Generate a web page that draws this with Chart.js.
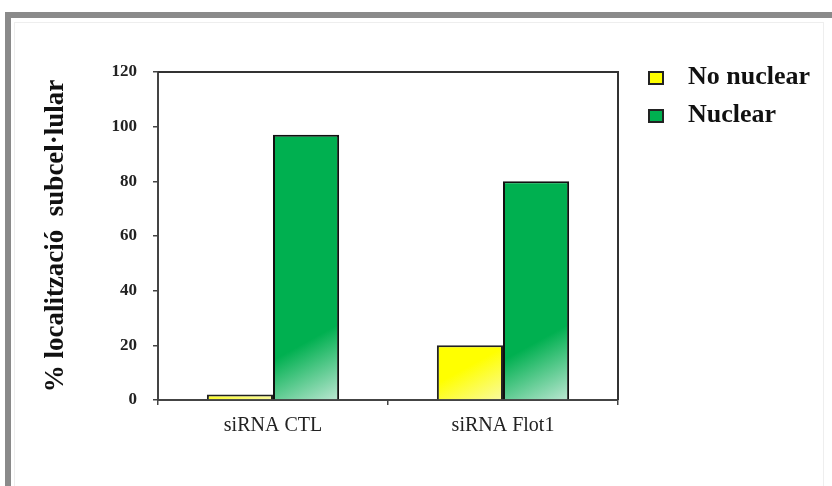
<!DOCTYPE html>
<html>
<head>
<meta charset="utf-8">
<script src="https://cdn.jsdelivr.net/npm/chart.js@4"></script>
<style>
    html, body { margin: 0; padding: 0; background: #fff; }
    body { width: 832px; height: 486px; position: relative; overflow: hidden; }
    /* grey frame round the figure */
    #frame { position: absolute; left: 5px; top: 12px; width: 840px; height: 480px;
             border-left: 6px solid #8a8a8a; border-top: 6px solid #8a8a8a; }
    #inner { position: absolute; left: 14px; top: 22px; width: 808px; height: 470px;
             border: 1px solid #eeeeee; }
    #chart-box { position: absolute; left: 0; top: 0; width: 832px; height: 486px; }
    #legend { position: absolute; left: 648px; top: 62px; font-family: "Liberation Serif", "Times New Roman", serif;
              font-weight: bold; font-size: 26px; color: #111; }
    .item { position: relative; height: 38px; }
    .sw { position: absolute; left: 0; top: 9px; width: 12px; height: 10px; border: 2px solid #222; }
    .lbl { position: absolute; left: 40px; top: 0; white-space: nowrap; line-height: 28px; }
</style>
</head>
<body>
<div id="frame"></div>
<div id="inner"></div>
<div id="chart-box"><canvas id="chart"></canvas></div>
<div id="legend"></div>

<script>
// Daten aus der Abbildung
const categories = ["siRNA CTL", "siRNA Flot1"];
const seriesNames = ["No nuclear", "Nuclear"];
const noNuclear = [2, 20];
const nuclear = [97, 80];
const yTicks = [0, 20, 40, 60, 80, 100, 120];

const colors = ["#ffff00", "#00b050"];
const lightColors = ["#f8f9c0", "#d6eee4"];
const catPct = 0.575;

// Verlauf pro Balken (unten rechts heller)
function barFill(side) {
    return function (ctx) {
        const chart = ctx.chart;
        if (!chart.chartArea || !chart.scales.x) return colors[side];
        const x = chart.scales.x, y = chart.scales.y;
        const center = x.getPixelForValue(ctx.dataIndex);
        const bw = (x.width / categories.length) * catPct / 2;
        const left = side === 0 ? center - bw : center;
        const base = y.getPixelForValue(0);
        const g = chart.ctx.createLinearGradient(left, base - 110, left + bw, base + 10);
        g.addColorStop(0, colors[side]);
        g.addColorStop(side === 0 ? 0.6 : 0.45, colors[side]);
        g.addColorStop(1, lightColors[side]);
        return g;
    };
}

// Rahmen oben und rechts um den Plotbereich
const boxPlugin = {
    id: "box",
    afterDraw(chart) {
        const a = chart.chartArea, c = chart.ctx;
        c.save();
        c.strokeStyle = "#333";
        c.lineWidth = 2;
        c.beginPath();
        c.moveTo(a.left, a.top);
        c.lineTo(a.right, a.top);
        c.lineTo(a.right, a.bottom);
        c.stroke();
        c.restore();
    }
};

new Chart(document.getElementById("chart"), {
    type: "bar",
    data: {
        labels: categories,
        datasets: [
            { label: seriesNames[0], data: noNuclear, backgroundColor: barFill(0),
              borderColor: "#222", borderWidth: 2, categoryPercentage: catPct, barPercentage: 1 },
            { label: seriesNames[1], data: nuclear, backgroundColor: barFill(1),
              borderColor: "#111", borderWidth: 2, categoryPercentage: catPct, barPercentage: 1 }
        ]
    },
    options: {
        responsive: true,
        maintainAspectRatio: false,
        animation: false,
        layout: { padding: { left: 30, top: 72, right: 214, bottom: 26 } },
        plugins: { legend: { display: false }, tooltip: { enabled: false } },
        scales: {
            x: {
                afterFit(s) { s.height = 60; },
                grid: { offset: true, drawOnChartArea: false, tickLength: 5, color: "#444", lineWidth: 1.5 },
                border: { color: "#444", width: 2 },
                ticks: { color: "#222", padding: 9,
                         font: { family: "'Liberation Serif', 'Times New Roman', serif", size: 20 } }
            },
            y: {
                min: 0,
                max: 120,
                afterFit(s) { s.width = 128; },
                afterBuildTicks(s) { s.ticks = yTicks.map(v => ({ value: v })); },
                grid: { drawOnChartArea: false, tickLength: 5, color: "#444", lineWidth: 1.5 },
                border: { color: "#444", width: 2 },
                ticks: { color: "#222", padding: 16,
                         font: { family: "'Liberation Serif', 'Times New Roman', serif", size: 17, weight: "bold" } },
                title: {
                    display: true,
                    text: "% localització  subcel·lular",
                    color: "#111",
                    padding: { top: 10, bottom: 0 },
                    font: { family: "'Liberation Serif', 'Times New Roman', serif", size: 27, weight: "bold" }
                }
            }
        }
    },
    plugins: [boxPlugin]
});

// Legende als HTML
const legend = document.getElementById("legend");
seriesNames.forEach((name, i) => {
    legend.innerHTML += `<div class="item"><span class="sw" style="background:${colors[i]}"></span><span class="lbl">${name}</span></div>`;
});
</script>
</body>
</html>
